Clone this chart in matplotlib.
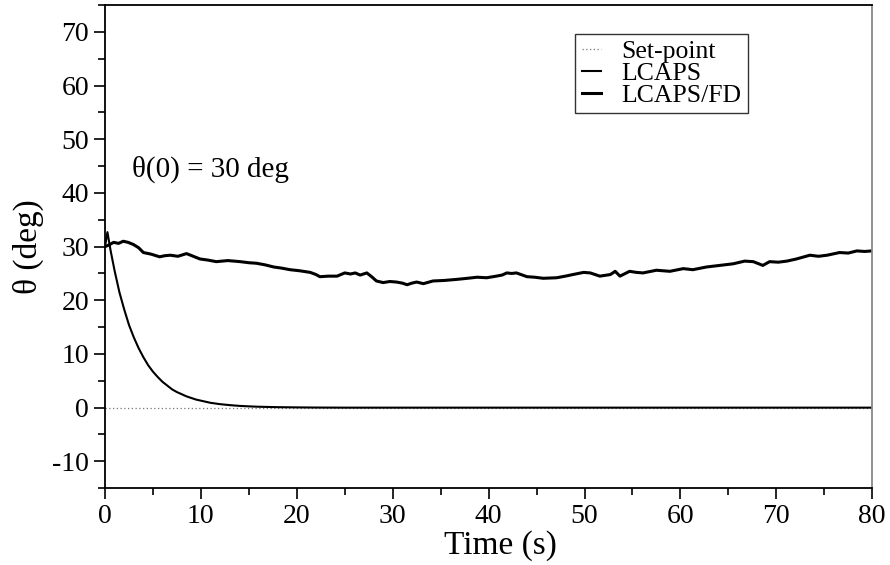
import matplotlib
matplotlib.use("Agg")
from matplotlib import pyplot as plt
from matplotlib.ticker import MultipleLocator

plt.rcParams['font.family'] = ['Liberation Serif', 'DejaVu Serif']
plt.rcParams['axes.unicode_minus'] = False

# set-point (reference angle)
setpoint_t = [0, 80]
setpoint_y = [0, 0]

# LCAPS response
lcaps_t = [0, 0.25, 0.6, 1, 1.5, 2, 2.5, 3, 3.5, 4, 4.5, 5, 5.5, 6, 6.5, 7, 7.5,
           8, 8.5, 9, 9.5, 10, 11, 12, 13, 14, 15, 16, 18, 20, 22, 25, 80]
lcaps_y = [30.0, 32.7, 29.1, 25.5, 21.5, 18.3, 15.4, 13.1, 11.1, 9.4, 7.9, 6.7,
           5.7, 4.8, 4.1, 3.4, 2.9, 2.5, 2.1, 1.8, 1.5, 1.3, 0.9, 0.65, 0.47,
           0.33, 0.24, 0.17, 0.09, 0.05, 0.02, 0.0, 0.0]

# LCAPS/FD response
fd_t = [0, 0.4, 0.9, 1.4, 1.9, 2.4, 2.95, 3.5, 4.0, 4.8, 5.7, 6.2, 6.8, 7.6, 8.5,
        9.2, 9.9, 10.7, 11.6, 12.8, 14.1, 15.0, 15.8, 16.7, 17.6, 18.4, 19.3,
        20.3, 21.4, 22.0, 22.4, 23.3, 24.2, 25.0, 25.6, 26.1, 26.6, 27.3, 27.8,
        28.3, 29.0, 29.7, 30.4, 31.0, 31.5, 32.0, 32.5, 33.2, 34.2, 35.4, 36.7,
        37.8, 38.8, 39.8, 40.8, 41.4, 41.9, 42.4, 42.9, 44.0, 44.8, 45.7, 47.1,
        48.0, 48.8, 49.9, 50.6, 51.6, 52.7, 53.2, 53.7, 54.7, 55.4, 56.1, 57.5,
        58.9, 60.3, 61.3, 62.7, 64.1, 65.5, 66.7, 67.6, 68.6, 69.3, 70.2, 71.1,
        72.1, 73.5, 74.4, 75.3, 76.6, 77.5, 78.4, 79.2, 80.0]
fd_y = [30.0, 30.3, 30.8, 30.6, 31.0, 30.8, 30.4, 29.8, 28.9, 28.6, 28.1, 28.3,
        28.4, 28.2, 28.7, 28.2, 27.7, 27.5, 27.2, 27.4, 27.2, 27.0, 26.9, 26.6,
        26.2, 26.0, 25.7, 25.5, 25.2, 24.8, 24.4, 24.5, 24.5, 25.1, 24.9, 25.1,
        24.7, 25.1, 24.4, 23.6, 23.3, 23.5, 23.4, 23.2, 22.9, 23.2, 23.4, 23.1,
        23.6, 23.7, 23.9, 24.1, 24.3, 24.2, 24.5, 24.7, 25.1, 25.0, 25.1, 24.4,
        24.3, 24.1, 24.2, 24.5, 24.8, 25.2, 25.1, 24.5, 24.8, 25.4, 24.5, 25.4,
        25.2, 25.1, 25.6, 25.4, 25.9, 25.7, 26.2, 26.5, 26.8, 27.3, 27.2, 26.5,
        27.2, 27.1, 27.3, 27.7, 28.4, 28.2, 28.4, 28.9, 28.8, 29.2, 29.1, 29.2]

fig = plt.figure(figsize=(8.9, 5.65), dpi=100)
ax = fig.add_axes([0.118, 0.136, 0.862, 0.855])

ax.plot(setpoint_t, setpoint_y, color='#777777', lw=0.9, ls=(0, (1, 2)), label='Set-point')
ax.plot(lcaps_t, lcaps_y, color='black', lw=1.5, label='LCAPS')
ax.plot(fd_t, fd_y, color='black', lw=2.2, label='LCAPS/FD')

ax.set_xlim(0, 80)
ax.set_ylim(-15, 75)
ax.xaxis.set_major_locator(MultipleLocator(10))
ax.xaxis.set_minor_locator(MultipleLocator(5))
ax.yaxis.set_major_locator(MultipleLocator(10))
ax.yaxis.set_minor_locator(MultipleLocator(5))
ax.set_yticks([-10, 0, 10, 20, 30, 40, 50, 60, 70])

ax.tick_params(which='both', direction='out', top=False, right=False,
               labelsize=20, width=1.2, pad=3.5)
ax.tick_params(which='major', length=8)
ax.tick_params(which='minor', length=5)
for side in ['left', 'bottom', 'top']:
    ax.spines[side].set_linewidth(1.3)
ax.spines['right'].set_color('#888888')
ax.spines['right'].set_linewidth(1.3)

ax.set_xlabel('Time (s)', fontsize=24)
ax.xaxis.set_label_coords(0.515, -0.087)
ax.set_ylabel('θ (deg)', fontsize=24, labelpad=6)

ax.text(2.8, 44.4, 'θ(0) = 30 deg', fontsize=21, va='center', ha='left')

leg = ax.legend(loc='upper left', bbox_to_anchor=(0.613, 0.94), fontsize=18.5,
                frameon=True, fancybox=False, handlelength=0.75,
                handletextpad=0.8, borderpad=0.25, labelspacing=-0.05,
                borderaxespad=0)
leg.get_frame().set_edgecolor('black')
leg.get_frame().set_linewidth(1.0)

fig.savefig('out.png', dpi=100)
